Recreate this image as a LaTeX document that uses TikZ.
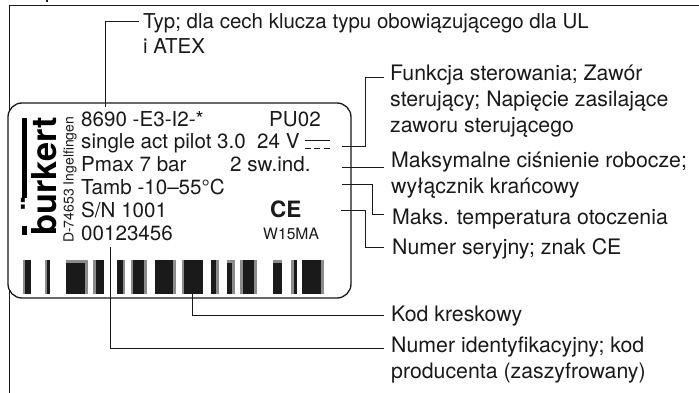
\documentclass[tikz,border=0pt]{standalone}
\usepackage{fontspec}
\setmainfont{TeX Gyre Heros}
\definecolor{ink}{HTML}{1A1A1A}
\definecolor{halftone}{HTML}{8C8C8C}
\newcommand{\firstline}{\rule{0pt}{18pt}}
\newcommand{\barcell}[3]{\fill[#3] (#1,260) rectangle (#2,294);}
\tikzset{
  frameline/.style={draw=ink,line width=0.9pt},
  plateline/.style={draw=ink,line width=1.3pt,fill=white,rounded corners=14pt},
  leader/.style={draw=ink,line width=0.9pt},
  legend/.style={anchor=north west,inner sep=0pt,align=left,text=ink,font=\fontsize{21.3}{26}\selectfont},
  platetext/.style={anchor=base west,inner sep=0pt,text=ink,font=\fontsize{20.6}{22}\selectfont},
}
\begin{document}
\begin{tikzpicture}[x=1pt,y=-1pt]
\useasboundingbox (0,0) rectangle (699,393);
\fill[white] (0,0) rectangle (699,393);
\fill[ink] (45.5,0) rectangle (48,2);
% frame
\draw[frameline] (699,5) -- (9.5,5) -- (9.5,393);
% plate
\draw[plateline] (8,103) rectangle (351,298);
% logo
\node[anchor=base west,inner sep=0pt,rotate=90,text=black,font=\fontsize{34.3}{36}\selectfont\bfseries] (logo) at (56,236) {b\rlap{\hspace{4.9pt}\raisebox{9.5pt}{¨}}urkert};
\fill[black] (22,118) rectangle (27,198);
\fill[black] (22,225.5) rectangle (27,235);
\node[anchor=base west,inner sep=0pt,rotate=90,text=ink,font=\fontsize{14}{16}\selectfont] (city) at (73.5,243) {D-74653 Ingelfingen};
% plate text
\node[platetext] (type) at (81,126.7) {8690 -E3-I2-*};
\node[platetext] (pu) at (269,126.7) {PU02};
\node[platetext] (func) at (81,149) {single act pilot 3.0};
\node[platetext] (volt) at (257,149) {24 V};
\node[platetext] (pmax) at (81,171.7) {Pmax 7 bar};
\node[platetext] (sw) at (230,171.7) {2 sw.ind.};
\node[platetext] (tamb) at (81,194) {Tamb -10–55°C};
\node[platetext] (sn) at (81,217) {S/N 1001};
\node[platetext] (id) at (81,240) {00123456};
\node[platetext,font=\fontsize{22.5}{24}\selectfont\bfseries] (ce) at (270,217) {CE};
\node[platetext,font=\fontsize{15.7}{17}\selectfont] (w15) at (263,239) {W15MA};
% DC symbol
\draw[ink,line width=0.9pt] (305,140.7) -- (329.5,140.7);
\draw[ink,line width=0.9pt] (305,148.7) -- (311,148.7) (314,148.7) -- (320,148.7) (323.5,148.7) -- (329.5,148.7);
% barcode
\barcell{23}{25}{halftone}\barcell{25}{31}{ink}
\barcell{45}{47}{halftone}\barcell{47}{50}{ink}
\barcell{66}{88}{halftone}\fill[ink] (66,263) rectangle (85,294);
\barcell{93}{96}{halftone}\barcell{96}{104}{ink}
\barcell{117}{123}{ink}\barcell{123}{125}{halftone}
\barcell{131}{133}{halftone}\barcell{133}{144}{ink}\barcell{144}{147}{halftone}
\barcell{155}{173}{ink}\barcell{173}{176}{halftone}
\barcell{182}{184}{halftone}\barcell{184}{203}{ink}
\barcell{211}{216}{ink}\barcell{216}{219}{halftone}
\barcell{227}{235}{halftone}\fill[ink] (227,263) rectangle (232,294);
\barcell{240}{243}{halftone}\barcell{243}{254}{ink}\barcell{254}{257}{halftone}
\barcell{273}{282}{halftone}\fill[ink] (273,263) rectangle (282,294);
\barcell{291}{294}{halftone}\barcell{294}{297}{ink}
\barcell{302}{321}{ink}\barcell{321}{324}{halftone}
% legends
\node[legend,font=\fontsize{20.5}{25}\selectfont] (ltype) at (143,10) {\firstline Typ; dla cech klucza typu obowiązującego dla UL\\i ATEX};
\node[legend] (lfunc) at (390,62) {\firstline Funkcja sterowania; Zawór\\sterujący; Napięcie zasilające\\zaworu sterującego};
\node[legend] (lpmax) at (391,149.7) {\firstline Maksymalne ciśnienie robocze;\\wyłącznik krańcowy};
\node[legend] (ltamb) at (392,206.7) {\firstline Maks. temperatura otoczenia};
\node[legend] (lsn) at (392,236.7) {\firstline Numer seryjny; znak CE};
\node[legend] (lcode) at (391,303.7) {\firstline Kod kreskowy};
\node[legend] (lid) at (391,334.7) {\firstline Numer identyfikacyjny; kod\\producenta (zaszyfrowany)};
% leader ends
\coordinate (a1) at (105,107.5); \coordinate (a2) at (139,21);
\coordinate (b1) at (342,146);   \coordinate (b2) at (384,77);
\coordinate (c1) at (342,167);   \coordinate (c2) at (384,167);
\coordinate (d1) at (342,184);   \coordinate (d2) at (384,214.7);
\coordinate (e1) at (341,210);   \coordinate (e2) at (384,247.7);
\coordinate (f1) at (192.3,285); \coordinate (f2) at (384,315.7);
\coordinate (g1) at (110,247);   \coordinate (g2) at (384,348);
% leaders
\draw[leader] (a1) |- (a2);
\draw[leader] (b1) -- (365.3,146) |- (b2);
\draw[leader] (c1) -- (c2);
\draw[leader] (d1) -- (372,184) |- (d2);
\draw[leader] (e1) -- (365.3,210) |- (e2);
\draw[leader] (f1) |- (f2);
\draw[leader] (g1) |- (g2);
\end{tikzpicture}
\end{document}
